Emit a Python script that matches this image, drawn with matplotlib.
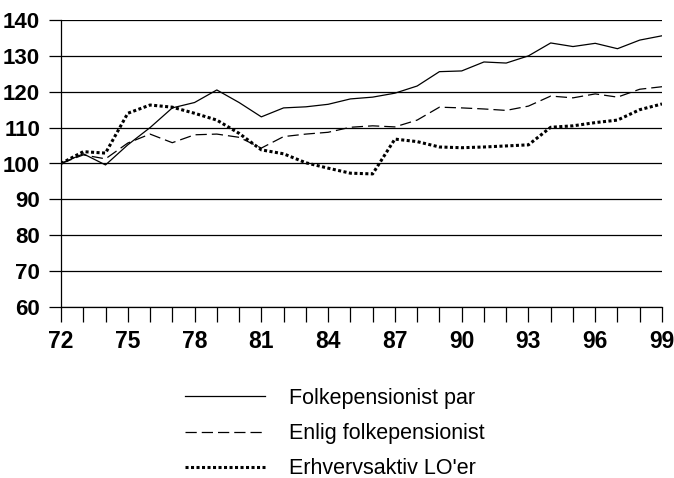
import matplotlib
matplotlib.use("Agg")
import matplotlib.pyplot as plt

years = list(range(72, 100))

folkepensionist_par = [100, 102.7, 99.6, 105.2, 110, 115.5, 117, 120.5, 117, 113,
                       115.5, 115.8, 116.5, 118, 118.5, 119.6, 121.6, 125.6, 125.8, 128.3,
                       128, 130, 133.6, 132.6, 133.5, 132, 134.4, 135.6]
enlig_folkepensionist = [100, 102.4, 101.3, 105.7, 108.2, 105.8, 108, 108.2, 107.3, 104.3,
                         107.5, 108.2, 108.7, 110.1, 110.5, 110.2, 112.1, 115.7, 115.5, 115.2,
                         114.8, 116, 118.8, 118.3, 119.4, 118.5, 120.7, 121.4]
erhvervsaktiv_lo = [100, 103.3, 102.9, 114, 116.3, 115.7, 114, 112.1, 108.4, 103.8,
                    102.7, 100.2, 98.7, 97.3, 97.1, 106.8, 106.1, 104.6, 104.4, 104.6,
                    104.9, 105.2, 110.1, 110.5, 111.4, 112.1, 115, 116.6]

labels = ["Folkepensionist par", "Enlig folkepensionist", "Erhvervsaktiv LO'er"]
xtick_labels = [72, 75, 78, 81, 84, 87, 90, 93, 96, 99]

plt.rcParams['font.family'] = ['Liberation Sans Narrow', 'Liberation Sans', 'DejaVu Sans']
plt.rcParams['font.weight'] = 'bold'

fig = plt.figure(figsize=(6.74, 4.78), dpi=100)
ax = fig.add_axes([61/674, 1 - 307/478, 601/674, 287/478])

ax.plot(years, folkepensionist_par, color='black', lw=0.9, label=labels[0])
ax.plot(years, enlig_folkepensionist, color='black', lw=0.9,
        linestyle=(0, (9, 4)), label=labels[1])
ax.plot(years, erhvervsaktiv_lo, color='black', lw=2.2,
        linestyle=(0, (1, 0.8)), dash_capstyle='butt', label=labels[2])

ax.set_xlim(72, 99)
ax.set_ylim(60, 140)
ax.set_yticks(range(60, 141, 10))
ax.set_xticks(years)
ax.set_xticklabels([str(y) if y in xtick_labels else "" for y in years])
ax.yaxis.grid(True, color='black', lw=0.9)
ax.set_axisbelow(True)

for s in ['top', 'right']:
    ax.spines[s].set_visible(False)
ax.spines['left'].set_linewidth(0.9)
ax.spines['bottom'].set_linewidth(0.9)

ax.tick_params(axis='y', length=8.6, width=0.9, pad=6.5, labelsize=16)
ax.tick_params(axis='x', length=10.8, width=0.9, pad=5.5, labelsize=16.5)

fig.legend(loc='upper left', bbox_to_anchor=(185/674, 1 - 388/478),
           frameon=False, prop={'size': 15.5, 'weight': 'normal'},
           handlelength=3.7, handletextpad=1.15,
           labelspacing=0.66, borderpad=0, borderaxespad=0)

fig.savefig("out.png", dpi=100)
